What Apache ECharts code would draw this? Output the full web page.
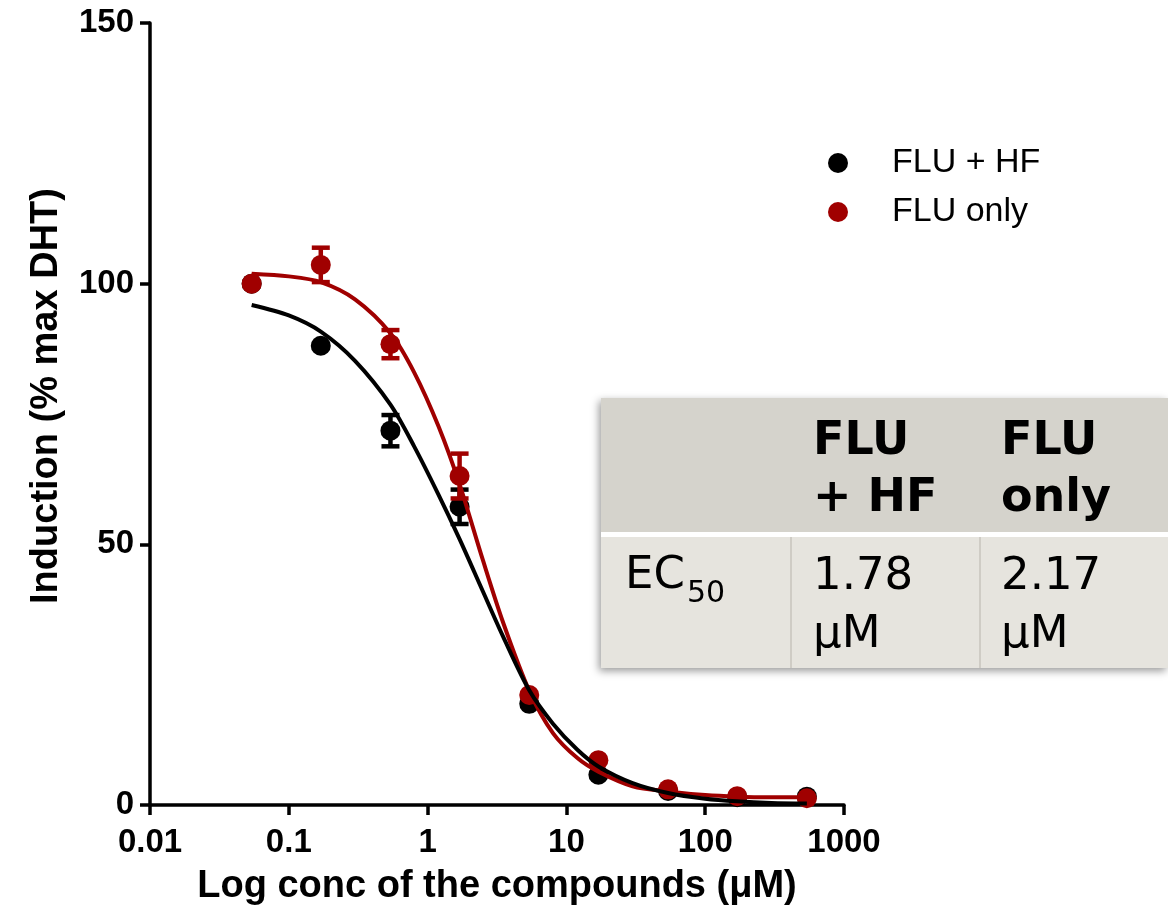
<!DOCTYPE html>
<html>
<head>
<meta charset="utf-8">
<script src="https://cdn.jsdelivr.net/npm/echarts@6/dist/echarts.min.js"></script>
<style>
  html, body { margin: 0; padding: 0; background: #fff; }
  #chart { width: 1168px; height: 906px; }
</style>
</head>
<body>
<div id="chart"></div>
<script>
// concentrations (µM)
const conc = [0.054, 0.17, 0.54, 1.7, 5.4, 17, 54, 170, 540];
// measured points (% max DHT)
const hfMean = [100, 88.1, 71.8, 57.2, 19.4, 5.8, 2.7, 1.5, 1.6];
const hfErr = [0, 0, 3.0, 3.3, 0, 0, 0, 0, 0];
const onlyMean = [100, 103.6, 88.4, 63.1, 21.1, 8.6, 3.0, 1.7, 1.3];
const onlyErr = [0, 3.3, 2.7, 4.3, 0, 0, 0, 0, 0];
// fitted curves
const curveX = [0.054, 0.1, 0.17, 0.3, 0.54, 0.8, 1.2, 1.7, 2.5, 3.5, 5.4, 8, 12, 17, 30, 54, 100, 170, 300, 540];
const hfCurve = [95.9, 93.9, 90.8, 85.2, 76.8, 68.8, 59.5, 51.0, 41.0, 32.3, 22.0, 15.6, 10.6, 7.4, 4.2, 2.3, 1.2, 0.7, 0.4, 0.3];
const onlyCurve = [101.9, 101.4, 100.3, 97.0, 90.5, 83.0, 72.6, 61.5, 47.0, 35.0, 21.9, 13.8, 9.0, 6.4, 3.6, 2.6, 1.9, 1.6, 1.5, 1.5];

const seriesNames = ['FLU + HF', 'FLU only'];
const xTickLabels = ['0.01', '0.1', '1', '10', '100', '1000'];
const yTicks = [0, 50, 100, 150];
const tableHead = ['FLU\n+ HF', 'FLU\nonly'];
const tableEC50 = ['1.78\nμM', '2.17\nμM'];

const BLACK = '#000000';
const RED = '#a00000';

function pairs(xs, ys) {
  return xs.map((x, i) => [x, ys[i]]);
}

function errData(means, errs) {
  const out = [];
  conc.forEach((c, i) => {
    if (errs[i] > 0) out.push([c, means[i] - errs[i], means[i] + errs[i]]);
  });
  return out;
}

function errRender(color) {
  return function (params, api) {
    const lo = api.coord([api.value(0), api.value(1)]);
    const hi = api.coord([api.value(0), api.value(2)]);
    const w = 9;
    const st = { stroke: color, lineWidth: 4.5 };
    return {
      type: 'group',
      children: [
        { type: 'line', shape: { x1: lo[0], y1: lo[1], x2: hi[0], y2: hi[1] }, style: st },
        { type: 'line', shape: { x1: lo[0] - w, y1: lo[1], x2: lo[0] + w, y2: lo[1] }, style: st },
        { type: 'line', shape: { x1: hi[0] - w, y1: hi[1], x2: hi[0] + w, y2: hi[1] }, style: st }
      ]
    };
  };
}

const chart = echarts.init(document.getElementById('chart'));

const axisFont = { fontFamily: 'Liberation Sans', fontWeight: 'bold', color: '#000' };

chart.setOption({
  animation: false,
  backgroundColor: '#fff',
  grid: { left: 150, right: 324, top: 23, bottom: 101, outerBoundsMode: 'none', containLabel: false },
  legend: {
    orient: 'vertical',
    left: 823,
    top: 141,
    icon: 'circle',
    itemWidth: 20,
    itemHeight: 20,
    itemGap: 15,
    data: seriesNames,
    textStyle: {
      fontFamily: 'Liberation Sans',
      fontSize: 34,
      lineHeight: 34,
      color: '#000',
      padding: [0, 0, 0, 39]
    }
  },
  xAxis: {
    type: 'log',
    logBase: 10,
    min: 0.01,
    max: 1000,
    name: 'Log conc of the compounds (μM)',
    nameLocation: 'middle',
    nameGap: 63,
    nameTextStyle: Object.assign({ fontSize: 38 }, axisFont),
    axisLine: { lineStyle: { color: '#000', width: 3.5 } },
    axisTick: { length: 10, lineStyle: { color: '#000', width: 3.5 } },
    minorTick: { show: false },
    splitLine: { show: false },
    axisLabel: Object.assign({
      fontSize: 33,
      margin: 21,
      formatter: v => xTickLabels[Math.round(Math.log10(v)) + 2]
    }, axisFont)
  },
  yAxis: {
    type: 'value',
    min: yTicks[0],
    max: yTicks[yTicks.length - 1],
    interval: 50,
    name: 'Induction (% max DHT)',
    nameLocation: 'middle',
    nameGap: 84,
    nameTextStyle: Object.assign({ fontSize: 38, padding: [0, 0, 0, 36] }, axisFont),
    axisLine: { show: true, lineStyle: { color: '#000', width: 3.5 } },
    axisTick: { show: true, length: 10, lineStyle: { color: '#000', width: 3.5 } },
    splitLine: { show: false },
    axisLabel: Object.assign({ fontSize: 33, margin: 16 }, axisFont)
  },
  series: [
    {
      name: seriesNames[0],
      type: 'scatter',
      symbol: 'circle',
      symbolSize: 20,
      itemStyle: { color: BLACK, opacity: 1 },
      data: pairs(conc, hfMean),
      z: 3
    },
    {
      name: seriesNames[1],
      type: 'scatter',
      symbol: 'circle',
      symbolSize: 20,
      itemStyle: { color: RED, opacity: 1 },
      data: pairs(conc, onlyMean),
      z: 4
    },
    {
      name: seriesNames[0],
      type: 'custom',
      renderItem: errRender(BLACK),
      data: errData(hfMean, hfErr),
      z: 3
    },
    {
      name: seriesNames[1],
      type: 'custom',
      renderItem: errRender(RED),
      data: errData(onlyMean, onlyErr),
      z: 4
    },
    {
      name: seriesNames[1],
      type: 'line',
      smooth: 0.3,
      showSymbol: false,
      lineStyle: { color: RED, width: 4 },
      data: pairs(curveX, onlyCurve),
      z: 5
    },
    {
      name: seriesNames[0],
      type: 'line',
      smooth: 0.3,
      showSymbol: false,
      lineStyle: { color: BLACK, width: 4 },
      data: pairs(curveX, hfCurve),
      z: 5
    }
  ],
  graphic: [
    {
      type: 'rect',
      shape: { x: 601, y: 398, width: 567, height: 270 },
      style: {
        fill: '#e6e4de',
        shadowBlur: 8,
        shadowOffsetX: -2,
        shadowOffsetY: 3,
        shadowColor: 'rgba(0,0,0,0.4)'
      },
      z: 10
    },
    { type: 'rect', shape: { x: 601, y: 398, width: 567, height: 134 }, style: { fill: '#d5d3cc' }, z: 11 },
    { type: 'rect', shape: { x: 601, y: 532, width: 567, height: 5 }, style: { fill: '#ffffff' }, z: 11 },
    { type: 'line', shape: { x1: 791, y1: 537, x2: 791, y2: 668 }, style: { stroke: '#cfccc5', lineWidth: 2 }, z: 11 },
    { type: 'line', shape: { x1: 980, y1: 537, x2: 980, y2: 668 }, style: { stroke: '#cfccc5', lineWidth: 2 }, z: 11 },
    {
      type: 'text', x: 813, y: 414, z: 12,
      style: { text: tableHead[0], fontFamily: 'DejaVu Sans', fontWeight: 'bold', fontSize: 46, lineHeight: 57, fill: '#000', verticalAlign: 'top' }
    },
    {
      type: 'text', x: 1001, y: 414, z: 12,
      style: { text: tableHead[1], fontFamily: 'DejaVu Sans', fontWeight: 'bold', fontSize: 46, lineHeight: 57, fill: '#000', verticalAlign: 'top' }
    },
    {
      type: 'text', x: 625, y: 576, z: 12,
      style: { text: 'EC', fontFamily: 'DejaVu Sans', fontSize: 45, fill: '#000', verticalAlign: 'middle' }
    },
    {
      type: 'text', x: 687, y: 594, z: 12,
      style: { text: '50', fontFamily: 'DejaVu Sans', fontSize: 30, fill: '#000', verticalAlign: 'middle' }
    },
    {
      type: 'text', x: 813, y: 548, z: 12,
      style: { text: tableEC50[0], fontFamily: 'DejaVu Sans', fontSize: 45, lineHeight: 58, fill: '#000', verticalAlign: 'top' }
    },
    {
      type: 'text', x: 1001, y: 548, z: 12,
      style: { text: tableEC50[1], fontFamily: 'DejaVu Sans', fontSize: 45, lineHeight: 58, fill: '#000', verticalAlign: 'top' }
    }
  ]
});
</script>
</body>
</html>
